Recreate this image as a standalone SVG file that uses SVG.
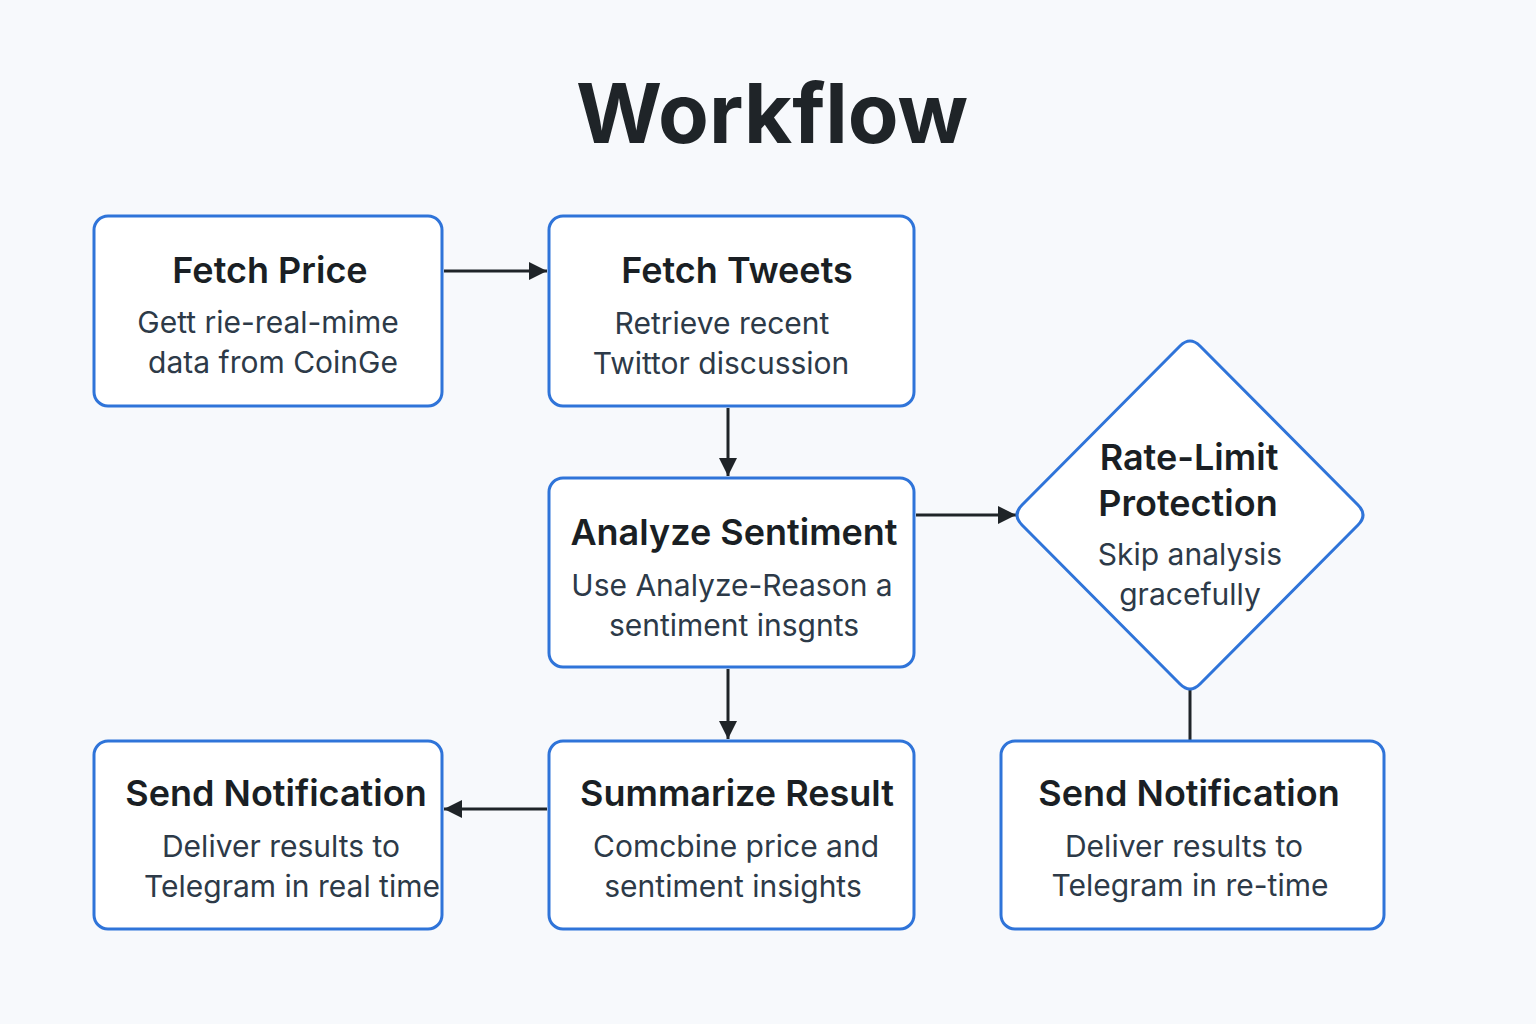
<svg xmlns="http://www.w3.org/2000/svg" width="1536" height="1024" viewBox="0 0 1536 1024">
<defs>
<style>
.node{fill:#ffffff;stroke:#2f74d9;stroke-width:3}
.t{font-family:Inter,"Noto Sans","Liberation Sans",sans-serif;font-weight:600;font-size:36px;fill:#1a1f24;text-anchor:middle}
.d{font-family:Inter,"Noto Sans","Liberation Sans",sans-serif;font-weight:400;font-size:30px;fill:#2d3a48;text-anchor:middle}
.ds{text-anchor:start}
.c{stroke:#1f2428;stroke-width:3;fill:none}
</style>
<marker id="ah" viewBox="0 0 10 10" refX="10" refY="5" markerWidth="6" markerHeight="6" markerUnits="strokeWidth" orient="auto">
<path d="M0,0 L10,5 L0,10 Z" fill="#1f2428"/>
</marker>
<clipPath id="clipL"><rect x="95" y="742" width="346" height="186" rx="13"/></clipPath>
</defs>
<rect width="1536" height="1024" fill="#f7f9fc"/>
<text x="772" y="143" font-family="Inter,'Noto Sans','Liberation Sans',sans-serif" font-weight="700" font-size="83" fill="#1f2428" text-anchor="middle">Workflow</text>
<g id="connectors">
<line class="c" x1="444" y1="271" x2="547" y2="271" marker-end="url(#ah)"/>
<line class="c" x1="728" y1="408" x2="728" y2="476" marker-end="url(#ah)"/>
<line class="c" x1="916" y1="515" x2="1016" y2="515" marker-end="url(#ah)"/>
<line class="c" x1="728" y1="669" x2="728" y2="739" marker-end="url(#ah)"/>
<line class="c" x1="547" y1="809" x2="444" y2="809" marker-end="url(#ah)"/>
<line class="c" x1="1190" y1="689" x2="1190" y2="741"/>
</g>
<g id="fetch-price">
<rect class="node" x="94" y="216" width="348" height="190" rx="14"/>
<text class="t" x="270" y="283">Fetch Price</text>
<text class="d" x="268" y="333">Gett rie-real-mime</text>
<text class="d" x="273" y="373">data from CoinGe</text>
</g>
<g id="fetch-tweets">
<rect class="node" x="549" y="216" width="365" height="190" rx="14"/>
<text class="t" x="737" y="283">Fetch Tweets</text>
<text class="d" x="722" y="334">Retrieve recent</text>
<text class="d" x="721" y="374">Twittor discussion</text>
</g>
<g id="analyze-sentiment">
<rect class="node" x="549" y="478" width="365" height="189" rx="14"/>
<text class="t" x="734" y="545">Analyze Sentiment</text>
<text class="d" x="732" y="596">Use Analyze-Reason a</text>
<text class="d" x="734" y="636">sentiment insgnts</text>
</g>
<g id="rate-limit">
<path class="node" d="M1180,346 Q1190,336 1200,346 L1358,505 Q1368,515 1358,525 L1200,684 Q1190,694 1180,684 L1022,525 Q1012,515 1022,505 Z"/>
<text class="t" x="1189" y="470">Rate-Limit</text>
<text class="t" x="1188" y="516">Protection</text>
<text class="d" x="1190" y="565">Skip analysis</text>
<text class="d" x="1190" y="605">gracefully</text>
</g>
<g id="summarize-result">
<rect class="node" x="549" y="741" width="365" height="188" rx="14"/>
<text class="t" x="737" y="806">Summarize Result</text>
<text class="d" x="736" y="857">Comcbine price and</text>
<text class="d" x="733" y="897">sentiment insights</text>
</g>
<g id="send-notification-left">
<rect class="node" x="94" y="741" width="348" height="188" rx="14"/>
<text class="t" x="276" y="806">Send Notification</text>
<text class="d" x="281" y="857">Deliver results to</text>
<text class="d ds" x="144" y="897" clip-path="url(#clipL)">Telegram in real time</text>
</g>
<g id="send-notification-right">
<rect class="node" x="1001" y="741" width="383" height="188" rx="14"/>
<text class="t" x="1189" y="806">Send Notification</text>
<text class="d" x="1184" y="857">Deliver results to</text>
<text class="d" x="1190" y="896">Telegram in re-time</text>
</g>
</svg>
